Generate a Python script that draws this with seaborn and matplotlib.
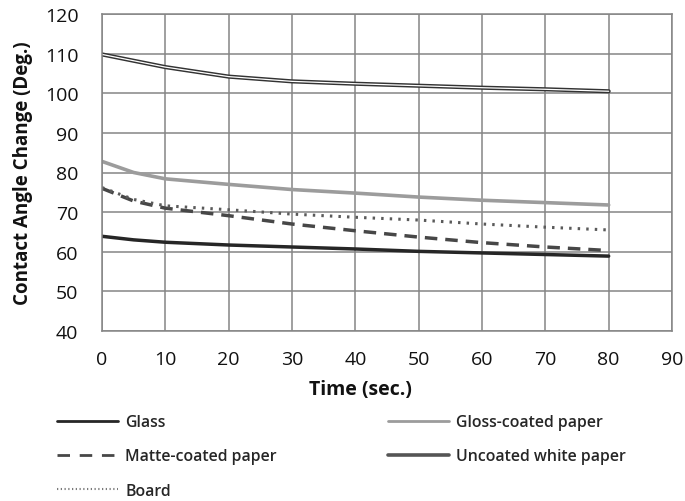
import matplotlib.pyplot as plt
import pandas as pd
import seaborn as sns
from matplotlib.lines import Line2D

time = [0, 5, 10, 20, 30, 40, 50, 60, 70, 80]
glass = [63.9, 63.0, 62.4, 61.7, 61.2, 60.7, 60.1, 59.7, 59.3, 58.9]
gloss = [82.8, 80.0, 78.4, 77.0, 75.7, 74.8, 73.8, 73.0, 72.4, 71.8]
matte = [76.0, 72.8, 71.0, 69.1, 67.0, 65.3, 63.7, 62.3, 61.2, 60.3]
uncoated = [109.8, 108.2, 106.6, 104.2, 103.0, 102.4, 101.9, 101.4, 101.0, 100.5]
board = [76.2, 73.2, 71.6, 70.6, 69.5, 68.7, 68.0, 67.0, 66.2, 65.5]

df = pd.DataFrame({"Time": time, "Glass": glass, "Gloss-coated paper": gloss,
                   "Matte-coated paper": matte, "Uncoated white paper": uncoated,
                   "Board": board})

sns.set_theme(style="white")
plt.rcParams["font.family"] = ["Open Sans", "DejaVu Sans"]

fig = plt.figure(figsize=(6.85, 5.02), dpi=100)
ax = fig.add_axes([102 / 685, 170 / 502, 570 / 685, 317 / 502])

sns.lineplot(data=df, x="Time", y="Glass", ax=ax, color="#262626", lw=2.5)
sns.lineplot(data=df, x="Time", y="Gloss-coated paper", ax=ax, color="#9c9c9c", lw=2.6)
sns.lineplot(data=df, x="Time", y="Matte-coated paper", ax=ax, color="#474747", lw=2.5,
             linestyle=(0, (3.6, 2.3)))
sns.lineplot(data=df, x="Time", y="Uncoated white paper", ax=ax, color="#333333", lw=3.0)
sns.lineplot(data=df, x="Time", y="Uncoated white paper", ax=ax, color="white", lw=0.9)
sns.lineplot(data=df, x="Time", y="Board", ax=ax, color="#5a5a5a", lw=2.2,
             linestyle=(0, (0.8, 2.0)))

ax.set_xlim(0, 90)
ax.set_ylim(40, 120)
ax.set_xticks(range(0, 91, 10))
ax.set_yticks(range(40, 121, 10))
ax.grid(True, color="#858585", lw=1.1)
for s in ax.spines.values():
    s.set_color("#858585")
    s.set_linewidth(1.1)
ax.tick_params(axis="both", labelsize=14, length=0, labelcolor="#111111")
ax.tick_params(axis="y", pad=17)
ax.tick_params(axis="x", pad=14)
ax.set_xlabel("Time (sec.)", fontsize=14, fontweight="bold", color="#111111")
ax.set_ylabel("Contact Angle Change (Deg.)", fontsize=13.5, fontweight="bold", color="#111111")
ax.xaxis.set_label_coords(0.453, -0.15)
ax.yaxis.set_label_coords(-0.121, 0.5)

# legend in two columns, placed under the axes
h_glass = Line2D([], [], color="#262626", lw=2.0)
h_matte = Line2D([], [], color="#474747", lw=2.0, linestyle=(0, (4.5, 3.5)))
h_board = Line2D([], [], color="#7a7a7a", lw=1.5, linestyle=(0, (0.6, 1.2)))
h_gloss = Line2D([], [], color="#9c9c9c", lw=2.0)
h_unc = Line2D([], [], color="#555555", lw=2.6)

leg_kw = dict(loc="upper left", frameon=False, handlelength=3.85,
              handletextpad=0.45, labelspacing=1.15, borderpad=0, borderaxespad=0,
              prop={"weight": "semibold", "size": 11.4})
fig.legend([h_glass, h_matte, h_board], ["Glass", "Matte-coated paper", "Board"],
           bbox_to_anchor=(57 / 685, 0.173), **leg_kw)
fig.legend([h_gloss, h_unc], ["Gloss-coated paper", "Uncoated white paper"],
           bbox_to_anchor=(388 / 685, 0.173), **leg_kw)

fig.savefig("out.png", dpi=100)
